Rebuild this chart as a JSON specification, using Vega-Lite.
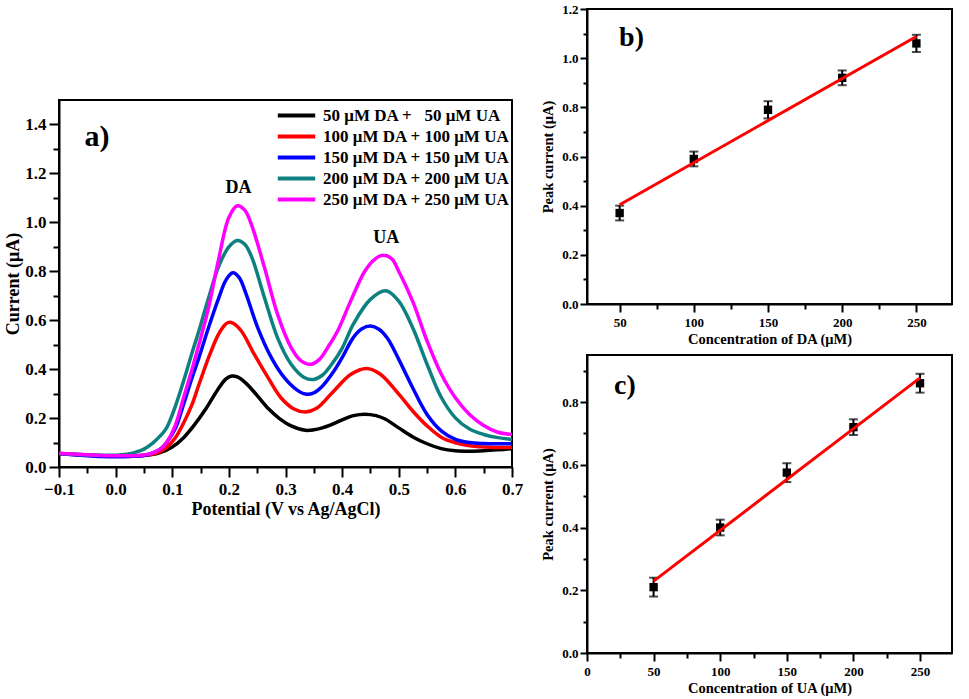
{
  "$schema": "https://vega.github.io/schema/vega-lite/v6.json",
  "background": "white",
  "padding": {"left": 3, "top": 2, "right": 5, "bottom": 5},
  "config": {
    "font": "Liberation Serif",
    "view": {"stroke": "black", "strokeWidth": 2},
    "axis": {
      "grid": false,
      "domainColor": "black",
      "domainWidth": 2,
      "tickColor": "black",
      "tickWidth": 2,
      "labelFont": "Liberation Serif",
      "labelFontWeight": "bold",
      "labelColor": "black",
      "titleFont": "Liberation Serif",
      "titleFontWeight": "bold",
      "titleColor": "black"
    },
    "axisX": {"labelFlush": false}
  },
  "datasets": {
    "cv": [
      {"series": "\u00a0\u00a050 μM DA +\u00a0\u00a0\u00a050 μM UA", "E": -0.1, "I": 0.055},
      {"series": "\u00a0\u00a050 μM DA +\u00a0\u00a0\u00a050 μM UA", "E": -0.075, "I": 0.052},
      {"series": "\u00a0\u00a050 μM DA +\u00a0\u00a0\u00a050 μM UA", "E": -0.05, "I": 0.049},
      {"series": "\u00a0\u00a050 μM DA +\u00a0\u00a0\u00a050 μM UA", "E": -0.025, "I": 0.046},
      {"series": "\u00a0\u00a050 μM DA +\u00a0\u00a0\u00a050 μM UA", "E": 0, "I": 0.045},
      {"series": "\u00a0\u00a050 μM DA +\u00a0\u00a0\u00a050 μM UA", "E": 0.025, "I": 0.045},
      {"series": "\u00a0\u00a050 μM DA +\u00a0\u00a0\u00a050 μM UA", "E": 0.05, "I": 0.048},
      {"series": "\u00a0\u00a050 μM DA +\u00a0\u00a0\u00a050 μM UA", "E": 0.075, "I": 0.056},
      {"series": "\u00a0\u00a050 μM DA +\u00a0\u00a0\u00a050 μM UA", "E": 0.1, "I": 0.082},
      {"series": "\u00a0\u00a050 μM DA +\u00a0\u00a0\u00a050 μM UA", "E": 0.12, "I": 0.12},
      {"series": "\u00a0\u00a050 μM DA +\u00a0\u00a0\u00a050 μM UA", "E": 0.14, "I": 0.175},
      {"series": "\u00a0\u00a050 μM DA +\u00a0\u00a0\u00a050 μM UA", "E": 0.16, "I": 0.24},
      {"series": "\u00a0\u00a050 μM DA +\u00a0\u00a0\u00a050 μM UA", "E": 0.18, "I": 0.315},
      {"series": "\u00a0\u00a050 μM DA +\u00a0\u00a0\u00a050 μM UA", "E": 0.195, "I": 0.36},
      {"series": "\u00a0\u00a050 μM DA +\u00a0\u00a0\u00a050 μM UA", "E": 0.205, "I": 0.372},
      {"series": "\u00a0\u00a050 μM DA +\u00a0\u00a0\u00a050 μM UA", "E": 0.215, "I": 0.368},
      {"series": "\u00a0\u00a050 μM DA +\u00a0\u00a0\u00a050 μM UA", "E": 0.23, "I": 0.343},
      {"series": "\u00a0\u00a050 μM DA +\u00a0\u00a0\u00a050 μM UA", "E": 0.25, "I": 0.292},
      {"series": "\u00a0\u00a050 μM DA +\u00a0\u00a0\u00a050 μM UA", "E": 0.27, "I": 0.238},
      {"series": "\u00a0\u00a050 μM DA +\u00a0\u00a0\u00a050 μM UA", "E": 0.29, "I": 0.197},
      {"series": "\u00a0\u00a050 μM DA +\u00a0\u00a0\u00a050 μM UA", "E": 0.31, "I": 0.168},
      {"series": "\u00a0\u00a050 μM DA +\u00a0\u00a0\u00a050 μM UA", "E": 0.335, "I": 0.15},
      {"series": "\u00a0\u00a050 μM DA +\u00a0\u00a0\u00a050 μM UA", "E": 0.35, "I": 0.152},
      {"series": "\u00a0\u00a050 μM DA +\u00a0\u00a0\u00a050 μM UA", "E": 0.365, "I": 0.16},
      {"series": "\u00a0\u00a050 μM DA +\u00a0\u00a0\u00a050 μM UA", "E": 0.38, "I": 0.172},
      {"series": "\u00a0\u00a050 μM DA +\u00a0\u00a0\u00a050 μM UA", "E": 0.4, "I": 0.193},
      {"series": "\u00a0\u00a050 μM DA +\u00a0\u00a0\u00a050 μM UA", "E": 0.42, "I": 0.21},
      {"series": "\u00a0\u00a050 μM DA +\u00a0\u00a0\u00a050 μM UA", "E": 0.44, "I": 0.216},
      {"series": "\u00a0\u00a050 μM DA +\u00a0\u00a0\u00a050 μM UA", "E": 0.46, "I": 0.21},
      {"series": "\u00a0\u00a050 μM DA +\u00a0\u00a0\u00a050 μM UA", "E": 0.475, "I": 0.197},
      {"series": "\u00a0\u00a050 μM DA +\u00a0\u00a0\u00a050 μM UA", "E": 0.5, "I": 0.16},
      {"series": "\u00a0\u00a050 μM DA +\u00a0\u00a0\u00a050 μM UA", "E": 0.525, "I": 0.123},
      {"series": "\u00a0\u00a050 μM DA +\u00a0\u00a0\u00a050 μM UA", "E": 0.55, "I": 0.095},
      {"series": "\u00a0\u00a050 μM DA +\u00a0\u00a0\u00a050 μM UA", "E": 0.575, "I": 0.075},
      {"series": "\u00a0\u00a050 μM DA +\u00a0\u00a0\u00a050 μM UA", "E": 0.6, "I": 0.066},
      {"series": "\u00a0\u00a050 μM DA +\u00a0\u00a0\u00a050 μM UA", "E": 0.625, "I": 0.064},
      {"series": "\u00a0\u00a050 μM DA +\u00a0\u00a0\u00a050 μM UA", "E": 0.65, "I": 0.066},
      {"series": "\u00a0\u00a050 μM DA +\u00a0\u00a0\u00a050 μM UA", "E": 0.675, "I": 0.07},
      {"series": "\u00a0\u00a050 μM DA +\u00a0\u00a0\u00a050 μM UA", "E": 0.7, "I": 0.075},

      {"series": "100 μM DA + 100 μM UA", "E": -0.1, "I": 0.055},
      {"series": "100 μM DA + 100 μM UA", "E": -0.075, "I": 0.051},
      {"series": "100 μM DA + 100 μM UA", "E": -0.05, "I": 0.048},
      {"series": "100 μM DA + 100 μM UA", "E": -0.025, "I": 0.045},
      {"series": "100 μM DA + 100 μM UA", "E": 0, "I": 0.044},
      {"series": "100 μM DA + 100 μM UA", "E": 0.025, "I": 0.044},
      {"series": "100 μM DA + 100 μM UA", "E": 0.05, "I": 0.047},
      {"series": "100 μM DA + 100 μM UA", "E": 0.066, "I": 0.053},
      {"series": "100 μM DA + 100 μM UA", "E": 0.08, "I": 0.065},
      {"series": "100 μM DA + 100 μM UA", "E": 0.09, "I": 0.08},
      {"series": "100 μM DA + 100 μM UA", "E": 0.105, "I": 0.118},
      {"series": "100 μM DA + 100 μM UA", "E": 0.12, "I": 0.18},
      {"series": "100 μM DA + 100 μM UA", "E": 0.135, "I": 0.256},
      {"series": "100 μM DA + 100 μM UA", "E": 0.147, "I": 0.336},
      {"series": "100 μM DA + 100 μM UA", "E": 0.164, "I": 0.446},
      {"series": "100 μM DA + 100 μM UA", "E": 0.18, "I": 0.535},
      {"series": "100 μM DA + 100 μM UA", "E": 0.19, "I": 0.573},
      {"series": "100 μM DA + 100 μM UA", "E": 0.198, "I": 0.59},
      {"series": "100 μM DA + 100 μM UA", "E": 0.207, "I": 0.588},
      {"series": "100 μM DA + 100 μM UA", "E": 0.222, "I": 0.556},
      {"series": "100 μM DA + 100 μM UA", "E": 0.245, "I": 0.46},
      {"series": "100 μM DA + 100 μM UA", "E": 0.27, "I": 0.362},
      {"series": "100 μM DA + 100 μM UA", "E": 0.292, "I": 0.283},
      {"series": "100 μM DA + 100 μM UA", "E": 0.315, "I": 0.237},
      {"series": "100 μM DA + 100 μM UA", "E": 0.335, "I": 0.225},
      {"series": "100 μM DA + 100 μM UA", "E": 0.355, "I": 0.24},
      {"series": "100 μM DA + 100 μM UA", "E": 0.385, "I": 0.31},
      {"series": "100 μM DA + 100 μM UA", "E": 0.415, "I": 0.378},
      {"series": "100 μM DA + 100 μM UA", "E": 0.443, "I": 0.403},
      {"series": "100 μM DA + 100 μM UA", "E": 0.467, "I": 0.38},
      {"series": "100 μM DA + 100 μM UA", "E": 0.5, "I": 0.298},
      {"series": "100 μM DA + 100 μM UA", "E": 0.525, "I": 0.228},
      {"series": "100 μM DA + 100 μM UA", "E": 0.55, "I": 0.168},
      {"series": "100 μM DA + 100 μM UA", "E": 0.575, "I": 0.122},
      {"series": "100 μM DA + 100 μM UA", "E": 0.6, "I": 0.099},
      {"series": "100 μM DA + 100 μM UA", "E": 0.625, "I": 0.087},
      {"series": "100 μM DA + 100 μM UA", "E": 0.65, "I": 0.082},
      {"series": "100 μM DA + 100 μM UA", "E": 0.675, "I": 0.08},
      {"series": "100 μM DA + 100 μM UA", "E": 0.7, "I": 0.08},

      {"series": "150 μM DA + 150 μM UA", "E": -0.1, "I": 0.055},
      {"series": "150 μM DA + 150 μM UA", "E": -0.075, "I": 0.05},
      {"series": "150 μM DA + 150 μM UA", "E": -0.05, "I": 0.046},
      {"series": "150 μM DA + 150 μM UA", "E": -0.025, "I": 0.043},
      {"series": "150 μM DA + 150 μM UA", "E": 0, "I": 0.042},
      {"series": "150 μM DA + 150 μM UA", "E": 0.025, "I": 0.043},
      {"series": "150 μM DA + 150 μM UA", "E": 0.05, "I": 0.047},
      {"series": "150 μM DA + 150 μM UA", "E": 0.066, "I": 0.058},
      {"series": "150 μM DA + 150 μM UA", "E": 0.08, "I": 0.075},
      {"series": "150 μM DA + 150 μM UA", "E": 0.09, "I": 0.1},
      {"series": "150 μM DA + 150 μM UA", "E": 0.105, "I": 0.155},
      {"series": "150 μM DA + 150 μM UA", "E": 0.12, "I": 0.256},
      {"series": "150 μM DA + 150 μM UA", "E": 0.135, "I": 0.365},
      {"series": "150 μM DA + 150 μM UA", "E": 0.147, "I": 0.446},
      {"series": "150 μM DA + 150 μM UA", "E": 0.164, "I": 0.569},
      {"series": "150 μM DA + 150 μM UA", "E": 0.182, "I": 0.69},
      {"series": "150 μM DA + 150 μM UA", "E": 0.195, "I": 0.765},
      {"series": "150 μM DA + 150 μM UA", "E": 0.207, "I": 0.794},
      {"series": "150 μM DA + 150 μM UA", "E": 0.218, "I": 0.775},
      {"series": "150 μM DA + 150 μM UA", "E": 0.23, "I": 0.71},
      {"series": "150 μM DA + 150 μM UA", "E": 0.25, "I": 0.575},
      {"series": "150 μM DA + 150 μM UA", "E": 0.275, "I": 0.447},
      {"series": "150 μM DA + 150 μM UA", "E": 0.298, "I": 0.365},
      {"series": "150 μM DA + 150 μM UA", "E": 0.32, "I": 0.315},
      {"series": "150 μM DA + 150 μM UA", "E": 0.335, "I": 0.298},
      {"series": "150 μM DA + 150 μM UA", "E": 0.35, "I": 0.303},
      {"series": "150 μM DA + 150 μM UA", "E": 0.365, "I": 0.33},
      {"series": "150 μM DA + 150 μM UA", "E": 0.385, "I": 0.39},
      {"series": "150 μM DA + 150 μM UA", "E": 0.4, "I": 0.447},
      {"series": "150 μM DA + 150 μM UA", "E": 0.42, "I": 0.53},
      {"series": "150 μM DA + 150 μM UA", "E": 0.435, "I": 0.565},
      {"series": "150 μM DA + 150 μM UA", "E": 0.45, "I": 0.576},
      {"series": "150 μM DA + 150 μM UA", "E": 0.465, "I": 0.563},
      {"series": "150 μM DA + 150 μM UA", "E": 0.48, "I": 0.526},
      {"series": "150 μM DA + 150 μM UA", "E": 0.5, "I": 0.44},
      {"series": "150 μM DA + 150 μM UA", "E": 0.525, "I": 0.322},
      {"series": "150 μM DA + 150 μM UA", "E": 0.55, "I": 0.215},
      {"series": "150 μM DA + 150 μM UA", "E": 0.575, "I": 0.148},
      {"series": "150 μM DA + 150 μM UA", "E": 0.6, "I": 0.113},
      {"series": "150 μM DA + 150 μM UA", "E": 0.625, "I": 0.1},
      {"series": "150 μM DA + 150 μM UA", "E": 0.65, "I": 0.096},
      {"series": "150 μM DA + 150 μM UA", "E": 0.675, "I": 0.095},
      {"series": "150 μM DA + 150 μM UA", "E": 0.7, "I": 0.095},

      {"series": "200 μM DA + 200 μM UA", "E": -0.1, "I": 0.055},
      {"series": "200 μM DA + 200 μM UA", "E": -0.075, "I": 0.052},
      {"series": "200 μM DA + 200 μM UA", "E": -0.05, "I": 0.049},
      {"series": "200 μM DA + 200 μM UA", "E": -0.025, "I": 0.048},
      {"series": "200 μM DA + 200 μM UA", "E": 0, "I": 0.048},
      {"series": "200 μM DA + 200 μM UA", "E": 0.02, "I": 0.052},
      {"series": "200 μM DA + 200 μM UA", "E": 0.035, "I": 0.06},
      {"series": "200 μM DA + 200 μM UA", "E": 0.05, "I": 0.073},
      {"series": "200 μM DA + 200 μM UA", "E": 0.066, "I": 0.099},
      {"series": "200 μM DA + 200 μM UA", "E": 0.08, "I": 0.13},
      {"series": "200 μM DA + 200 μM UA", "E": 0.09, "I": 0.16},
      {"series": "200 μM DA + 200 μM UA", "E": 0.105, "I": 0.245},
      {"series": "200 μM DA + 200 μM UA", "E": 0.12, "I": 0.351},
      {"series": "200 μM DA + 200 μM UA", "E": 0.135, "I": 0.467},
      {"series": "200 μM DA + 200 μM UA", "E": 0.147, "I": 0.556},
      {"series": "200 μM DA + 200 μM UA", "E": 0.164, "I": 0.69},
      {"series": "200 μM DA + 200 μM UA", "E": 0.182, "I": 0.82},
      {"series": "200 μM DA + 200 μM UA", "E": 0.2, "I": 0.9},
      {"series": "200 μM DA + 200 μM UA", "E": 0.215, "I": 0.926},
      {"series": "200 μM DA + 200 μM UA", "E": 0.228, "I": 0.91},
      {"series": "200 μM DA + 200 μM UA", "E": 0.24, "I": 0.86},
      {"series": "200 μM DA + 200 μM UA", "E": 0.263, "I": 0.691},
      {"series": "200 μM DA + 200 μM UA", "E": 0.286, "I": 0.528},
      {"series": "200 μM DA + 200 μM UA", "E": 0.31, "I": 0.42},
      {"series": "200 μM DA + 200 μM UA", "E": 0.333, "I": 0.366},
      {"series": "200 μM DA + 200 μM UA", "E": 0.35, "I": 0.358},
      {"series": "200 μM DA + 200 μM UA", "E": 0.365, "I": 0.375},
      {"series": "200 μM DA + 200 μM UA", "E": 0.38, "I": 0.415},
      {"series": "200 μM DA + 200 μM UA", "E": 0.4, "I": 0.485},
      {"series": "200 μM DA + 200 μM UA", "E": 0.42, "I": 0.585},
      {"series": "200 μM DA + 200 μM UA", "E": 0.45, "I": 0.685},
      {"series": "200 μM DA + 200 μM UA", "E": 0.477, "I": 0.72},
      {"series": "200 μM DA + 200 μM UA", "E": 0.5, "I": 0.678},
      {"series": "200 μM DA + 200 μM UA", "E": 0.525, "I": 0.567},
      {"series": "200 μM DA + 200 μM UA", "E": 0.55, "I": 0.42},
      {"series": "200 μM DA + 200 μM UA", "E": 0.575, "I": 0.285},
      {"series": "200 μM DA + 200 μM UA", "E": 0.6, "I": 0.201},
      {"series": "200 μM DA + 200 μM UA", "E": 0.625, "I": 0.155},
      {"series": "200 μM DA + 200 μM UA", "E": 0.65, "I": 0.133},
      {"series": "200 μM DA + 200 μM UA", "E": 0.675, "I": 0.12},
      {"series": "200 μM DA + 200 μM UA", "E": 0.7, "I": 0.113},

      {"series": "250 μM DA + 250 μM UA", "E": -0.1, "I": 0.056},
      {"series": "250 μM DA + 250 μM UA", "E": -0.075, "I": 0.053},
      {"series": "250 μM DA + 250 μM UA", "E": -0.05, "I": 0.05},
      {"series": "250 μM DA + 250 μM UA", "E": -0.025, "I": 0.047},
      {"series": "250 μM DA + 250 μM UA", "E": 0, "I": 0.046},
      {"series": "250 μM DA + 250 μM UA", "E": 0.025, "I": 0.046},
      {"series": "250 μM DA + 250 μM UA", "E": 0.05, "I": 0.049},
      {"series": "250 μM DA + 250 μM UA", "E": 0.066, "I": 0.058},
      {"series": "250 μM DA + 250 μM UA", "E": 0.08, "I": 0.075},
      {"series": "250 μM DA + 250 μM UA", "E": 0.09, "I": 0.1},
      {"series": "250 μM DA + 250 μM UA", "E": 0.105, "I": 0.168},
      {"series": "250 μM DA + 250 μM UA", "E": 0.12, "I": 0.283},
      {"series": "250 μM DA + 250 μM UA", "E": 0.135, "I": 0.4},
      {"series": "250 μM DA + 250 μM UA", "E": 0.147, "I": 0.5},
      {"series": "250 μM DA + 250 μM UA", "E": 0.164, "I": 0.65},
      {"series": "250 μM DA + 250 μM UA", "E": 0.182, "I": 0.85},
      {"series": "250 μM DA + 250 μM UA", "E": 0.2, "I": 1.02},
      {"series": "250 μM DA + 250 μM UA", "E": 0.215, "I": 1.068},
      {"series": "250 μM DA + 250 μM UA", "E": 0.228, "I": 1.05},
      {"series": "250 μM DA + 250 μM UA", "E": 0.24, "I": 0.99},
      {"series": "250 μM DA + 250 μM UA", "E": 0.263, "I": 0.814},
      {"series": "250 μM DA + 250 μM UA", "E": 0.286, "I": 0.624},
      {"series": "250 μM DA + 250 μM UA", "E": 0.31, "I": 0.488},
      {"series": "250 μM DA + 250 μM UA", "E": 0.327, "I": 0.435},
      {"series": "250 μM DA + 250 μM UA", "E": 0.345, "I": 0.42},
      {"series": "250 μM DA + 250 μM UA", "E": 0.36, "I": 0.44},
      {"series": "250 μM DA + 250 μM UA", "E": 0.375, "I": 0.49},
      {"series": "250 μM DA + 250 μM UA", "E": 0.392, "I": 0.556},
      {"series": "250 μM DA + 250 μM UA", "E": 0.415, "I": 0.678},
      {"series": "250 μM DA + 250 μM UA", "E": 0.44, "I": 0.8},
      {"series": "250 μM DA + 250 μM UA", "E": 0.458, "I": 0.85},
      {"series": "250 μM DA + 250 μM UA", "E": 0.473, "I": 0.865},
      {"series": "250 μM DA + 250 μM UA", "E": 0.488, "I": 0.85},
      {"series": "250 μM DA + 250 μM UA", "E": 0.5, "I": 0.8},
      {"series": "250 μM DA + 250 μM UA", "E": 0.525, "I": 0.675},
      {"series": "250 μM DA + 250 μM UA", "E": 0.55, "I": 0.515},
      {"series": "250 μM DA + 250 μM UA", "E": 0.575, "I": 0.38},
      {"series": "250 μM DA + 250 μM UA", "E": 0.6, "I": 0.283},
      {"series": "250 μM DA + 250 μM UA", "E": 0.625, "I": 0.215},
      {"series": "250 μM DA + 250 μM UA", "E": 0.65, "I": 0.17},
      {"series": "250 μM DA + 250 μM UA", "E": 0.675, "I": 0.142},
      {"series": "250 μM DA + 250 μM UA", "E": 0.7, "I": 0.133}
    ],
    "da": [
      {"conc": 50, "peak": 0.37, "err": 0.03},
      {"conc": 100, "peak": 0.59, "err": 0.03},
      {"conc": 150, "peak": 0.79, "err": 0.035},
      {"conc": 200, "peak": 0.92, "err": 0.03},
      {"conc": 250, "peak": 1.06, "err": 0.035}
    ],
    "da_fit": [
      {"conc": 50, "peak": 0.404},
      {"conc": 250, "peak": 1.088}
    ],
    "ua": [
      {"conc": 50, "peak": 0.21, "err": 0.03},
      {"conc": 100, "peak": 0.4, "err": 0.025},
      {"conc": 150, "peak": 0.575, "err": 0.03},
      {"conc": 200, "peak": 0.72, "err": 0.025},
      {"conc": 250, "peak": 0.86, "err": 0.03}
    ],
    "ua_fit": [
      {"conc": 50, "peak": 0.229},
      {"conc": 250, "peak": 0.877}
    ]
  },
  "spacing": 15,
  "hconcat": [
    {
      "spacing": 0,
      "vconcat": [
        {
          "width": 453,
          "height": 90,
          "view": {"stroke": null},
          "data": {"values": [{}]},
          "mark": "text",
          "encoding": {"text": {"value": ""}}
        },
        {
          "width": 453,
          "height": 367,
          "resolve": {"axis": {"x": "independent", "y": "independent"}},
          "layer": [
            {
              "data": {"name": "cv"},
              "mark": {"type": "line", "strokeWidth": 3.5, "interpolate": "catmull-rom", "clip": true},
              "encoding": {
                "x": {
                  "field": "E", "type": "quantitative",
                  "scale": {"domain": [-0.1, 0.7], "nice": false, "zero": false},
                  "axis": {
                    "orient": "bottom",
                    "title": "Potential (V vs Ag/AgCl)",
                    "values": [-0.1, 0, 0.1, 0.2, 0.3, 0.4, 0.5, 0.6, 0.7],
                    "format": ".1f",
                    "tickSize": 10, "labelPadding": 4, "labelFontSize": 17,
                    "titleFontSize": 18, "titlePadding": 3
                  }
                },
                "y": {
                  "field": "I", "type": "quantitative",
                  "scale": {"domain": [0, 1.5], "nice": false},
                  "axis": {
                    "orient": "left",
                    "title": "Current (μA)",
                    "values": [0, 0.2, 0.4, 0.6, 0.8, 1.0, 1.2, 1.4],
                    "format": ".1f",
                    "tickSize": 10, "labelPadding": 3, "labelFontSize": 17,
                    "titleFontSize": 18, "titlePadding": 2
                  }
                },
                "color": {
                  "field": "series", "type": "nominal",
                  "scale": {
                    "domain": ["\u00a0\u00a050 μM DA +\u00a0\u00a0\u00a050 μM UA", "100 μM DA + 100 μM UA", "150 μM DA + 150 μM UA", "200 μM DA + 200 μM UA", "250 μM DA + 250 μM UA"],
                    "range": ["#000000", "#ff0000", "#0000ff", "#0e8080", "#ff00ff"]
                  },
                  "legend": {
                    "title": null,
                    "orient": "none",
                    "legendX": 227,
                    "legendY": 96,
                    "padding": 0,
                    "symbolType": "M-2.2,0H2.2",
                    "symbolSize": 289,
                    "symbolStrokeWidth": 4,
                    "labelOffset": 16,
                    "labelFont": "Liberation Serif",
                    "labelFontSize": 17,
                    "labelFontWeight": "bold",
                    "labelColor": "black",
                    "labelLimit": 0,
                    "rowPadding": 2
                  }
                }
              }
            },
            {
              "data": {"values": [
                {"E": 0.217, "I": 1.14, "label": "DA"},
                {"E": 0.478, "I": 0.935, "label": "UA"}
              ]},
              "mark": {"type": "text", "fontSize": 18, "fontWeight": "bold", "color": "black"},
              "encoding": {
                "x": {
                  "field": "E", "type": "quantitative",
                  "axis": {
                    "orient": "bottom", "title": null, "labels": false, "domain": false,
                    "values": [-0.05, 0.05, 0.15, 0.25, 0.35, 0.45, 0.55, 0.65],
                    "tickSize": 6
                  }
                },
                "y": {
                  "field": "I", "type": "quantitative",
                  "axis": {
                    "orient": "left", "title": null, "labels": false, "domain": false,
                    "values": [0.1, 0.3, 0.5, 0.7, 0.9, 1.1, 1.3],
                    "tickSize": 6
                  }
                },
                "text": {"field": "label"}
              }
            },
            {
              "data": {"values": [{"E": -0.033, "I": 1.35, "label": "a)"}]},
              "mark": {"type": "text", "fontSize": 30, "fontWeight": "bold", "color": "black"},
              "encoding": {
                "x": {"field": "E", "type": "quantitative", "axis": null},
                "y": {"field": "I", "type": "quantitative", "axis": null},
                "text": {"field": "label"}
              }
            }
          ]
        }
      ]
    },
    {
      "spacing": 7,
      "vconcat": [
        {
          "width": 365,
          "height": 295,
          "resolve": {"axis": {"x": "independent", "y": "independent"}},
          "layer": [
            {
              "data": {"name": "da"},
              "mark": {"type": "errorbar", "color": "black", "ticks": {"size": 9, "thickness": 2}, "rule": {"strokeWidth": 2}},
              "encoding": {
                "x": {
                  "field": "conc", "type": "quantitative",
                  "scale": {"domain": [28, 274], "nice": false, "zero": false},
                  "axis": {
                    "orient": "bottom",
                    "title": "Concentration of DA (μM)",
                    "values": [50, 100, 150, 200, 250],
                    "tickSize": 8, "labelPadding": 4, "labelFontSize": 13,
                    "titleFontSize": 14.5, "titlePadding": 3
                  }
                },
                "y": {
                  "field": "peak", "type": "quantitative",
                  "scale": {"domain": [0, 1.2], "nice": false},
                  "axis": {
                    "orient": "left",
                    "title": "Peak current (μA)",
                    "values": [0, 0.2, 0.4, 0.6, 0.8, 1.0, 1.2],
                    "format": ".1f",
                    "tickSize": 7, "labelPadding": 2, "labelFontSize": 13,
                    "titleFontSize": 14.5, "titlePadding": 6
                  }
                },
                "yError": {"field": "err"}
              }
            },
            {
              "data": {"name": "da"},
              "mark": {"type": "square", "size": 70, "color": "black", "opacity": 1},
              "encoding": {
                "x": {
                  "field": "conc", "type": "quantitative",
                  "axis": {"orient": "bottom", "title": null, "labels": false, "domain": false, "values": [75, 125, 175, 225], "tickSize": 5}
                },
                "y": {
                  "field": "peak", "type": "quantitative",
                  "axis": {"orient": "left", "title": null, "labels": false, "domain": false, "values": [0.1, 0.3, 0.5, 0.7, 0.9, 1.1], "tickSize": 4}
                }
              }
            },
            {
              "data": {"name": "da_fit"},
              "mark": {"type": "line", "color": "#ff0000", "strokeWidth": 3},
              "encoding": {
                "x": {"field": "conc", "type": "quantitative", "axis": null},
                "y": {"field": "peak", "type": "quantitative", "axis": null}
              }
            },
            {
              "data": {"values": [{"conc": 58, "peak": 1.082, "label": "b)"}]},
              "mark": {"type": "text", "fontSize": 28, "fontWeight": "bold", "color": "black"},
              "encoding": {
                "x": {"field": "conc", "type": "quantitative", "axis": null},
                "y": {"field": "peak", "type": "quantitative", "axis": null},
                "text": {"field": "label"}
              }
            }
          ]
        },
        {
          "width": 365,
          "height": 298,
          "resolve": {"axis": {"x": "independent", "y": "independent"}},
          "layer": [
            {
              "data": {"name": "ua"},
              "mark": {"type": "errorbar", "color": "black", "ticks": {"size": 9, "thickness": 2}, "rule": {"strokeWidth": 2}},
              "encoding": {
                "x": {
                  "field": "conc", "type": "quantitative",
                  "scale": {"domain": [0, 274], "nice": false, "zero": false},
                  "axis": {
                    "orient": "bottom",
                    "title": "Concentration of UA (μM)",
                    "values": [0, 50, 100, 150, 200, 250],
                    "tickSize": 8, "labelPadding": 4, "labelFontSize": 13,
                    "titleFontSize": 14.5, "titlePadding": 3
                  }
                },
                "y": {
                  "field": "peak", "type": "quantitative",
                  "scale": {"domain": [0, 0.95], "nice": false},
                  "axis": {
                    "orient": "left",
                    "title": "Peak current (μA)",
                    "values": [0, 0.2, 0.4, 0.6, 0.8],
                    "format": ".1f",
                    "tickSize": 7, "labelPadding": 2, "labelFontSize": 13,
                    "titleFontSize": 14.5, "titlePadding": 6
                  }
                },
                "yError": {"field": "err"}
              }
            },
            {
              "data": {"name": "ua"},
              "mark": {"type": "square", "size": 70, "color": "black", "opacity": 1},
              "encoding": {
                "x": {
                  "field": "conc", "type": "quantitative",
                  "axis": {"orient": "bottom", "title": null, "labels": false, "domain": false, "values": [25, 75, 125, 175, 225], "tickSize": 5}
                },
                "y": {
                  "field": "peak", "type": "quantitative",
                  "axis": {"orient": "left", "title": null, "labels": false, "domain": false, "values": [0.1, 0.3, 0.5, 0.7, 0.9], "tickSize": 4}
                }
              }
            },
            {
              "data": {"name": "ua_fit"},
              "mark": {"type": "line", "color": "#ff0000", "strokeWidth": 3},
              "encoding": {
                "x": {"field": "conc", "type": "quantitative", "axis": null},
                "y": {"field": "peak", "type": "quantitative", "axis": null}
              }
            },
            {
              "data": {"values": [{"conc": 28.4, "peak": 0.851, "label": "c)"}]},
              "mark": {"type": "text", "fontSize": 28, "fontWeight": "bold", "color": "black"},
              "encoding": {
                "x": {"field": "conc", "type": "quantitative", "axis": null},
                "y": {"field": "peak", "type": "quantitative", "axis": null},
                "text": {"field": "label"}
              }
            }
          ]
        }
      ]
    }
  ]
}
